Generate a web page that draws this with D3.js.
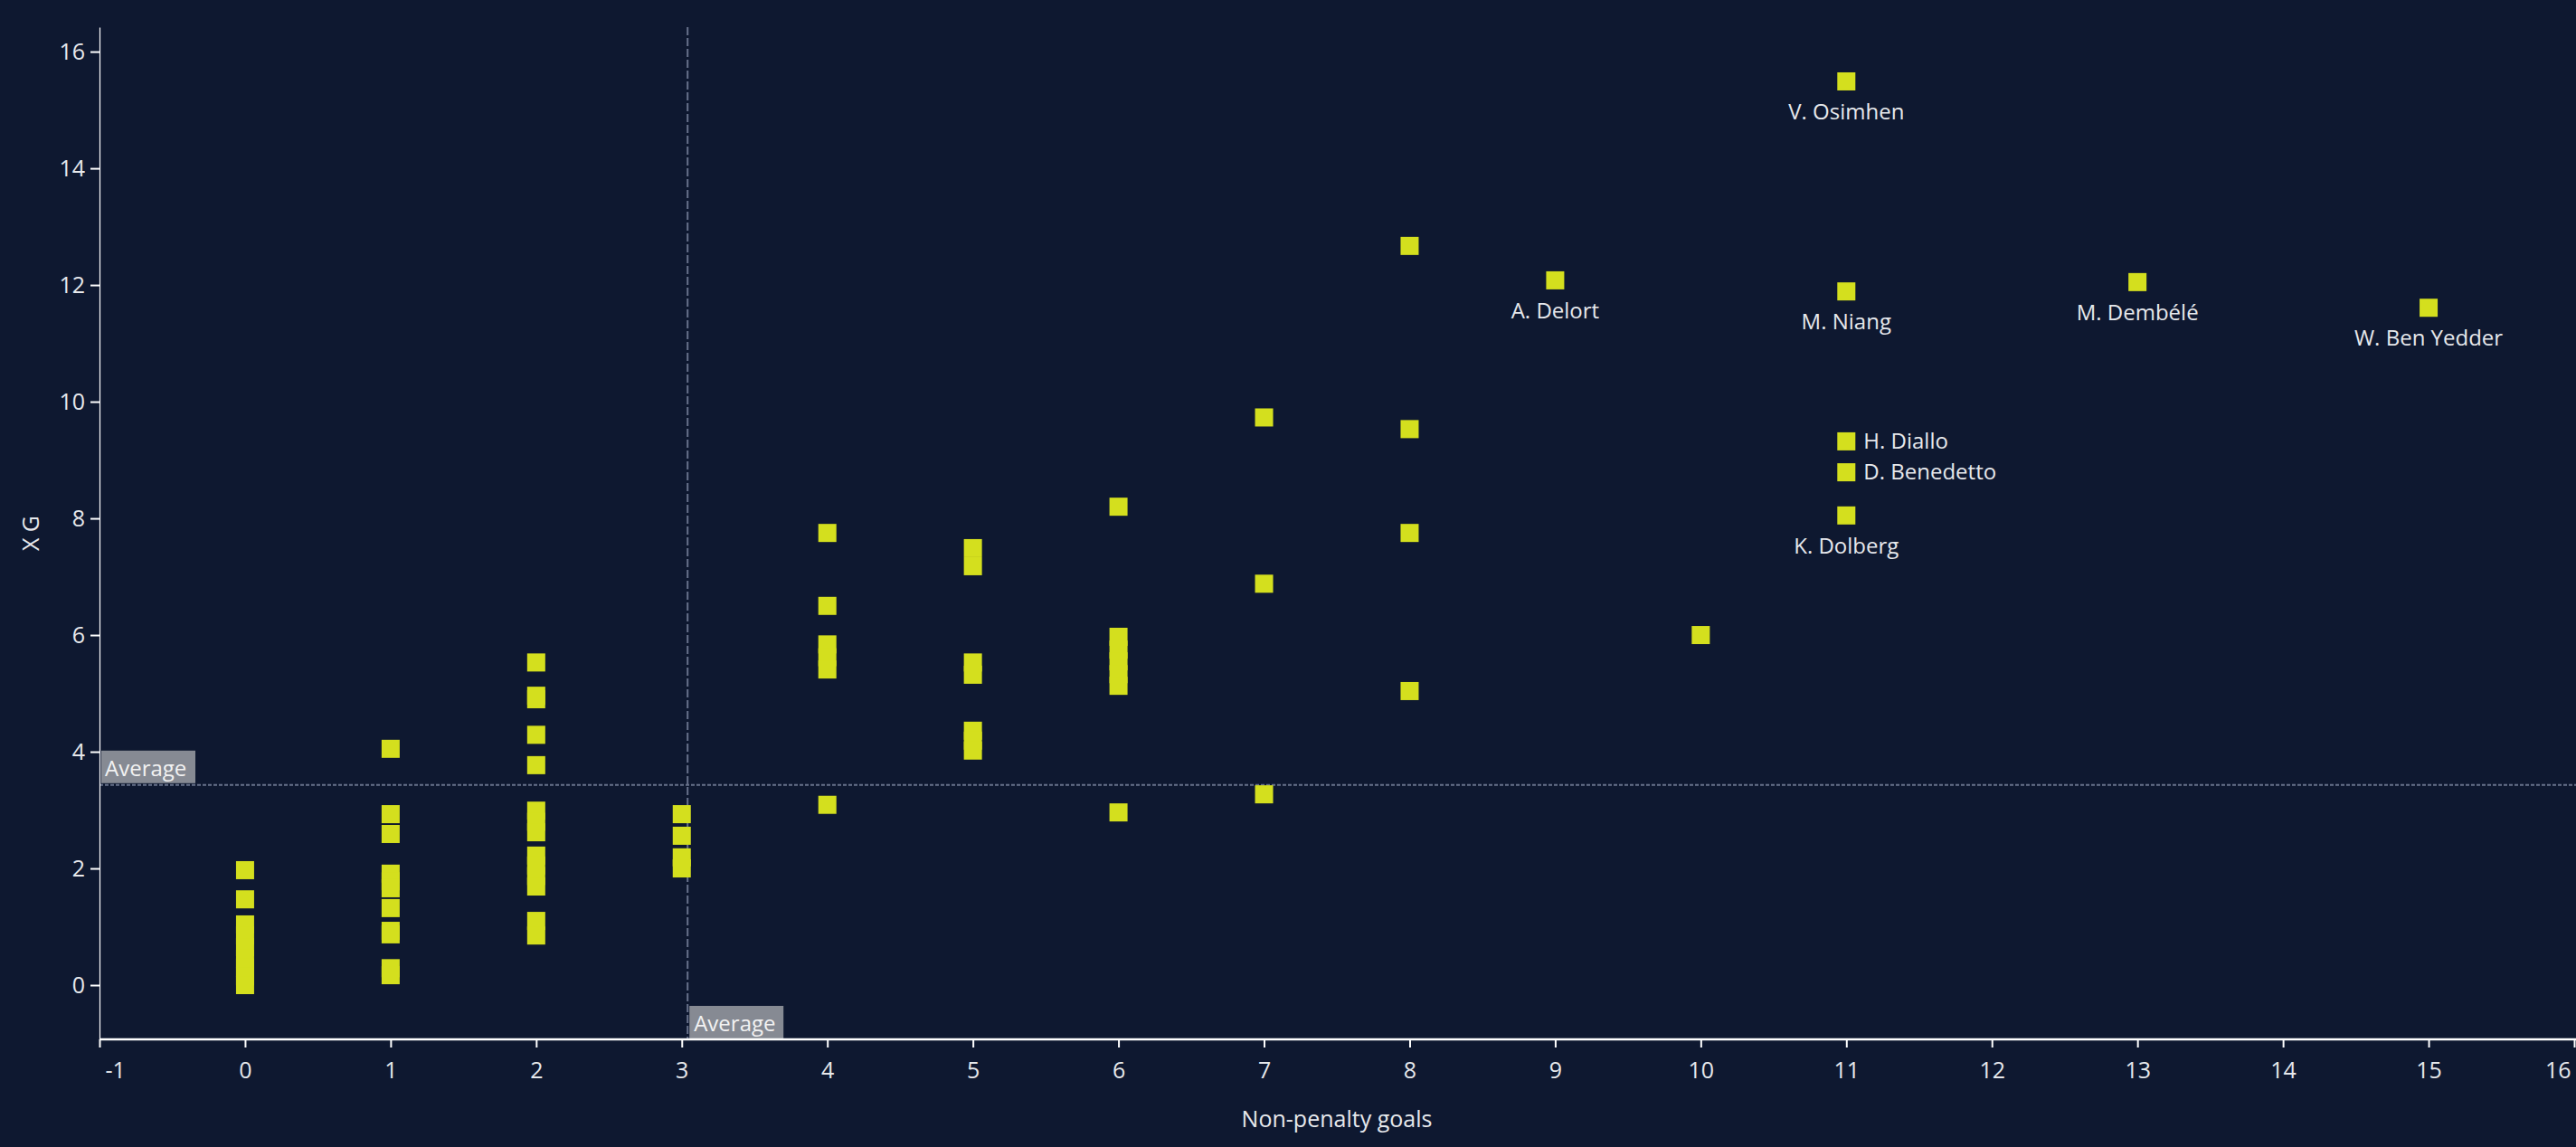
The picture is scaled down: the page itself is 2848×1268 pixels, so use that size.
<!DOCTYPE html>
<html><head><meta charset="utf-8">
<script src="https://cdn.jsdelivr.net/npm/d3@7"></script>
<style>
html,body{margin:0;padding:0;background:#0e1830;}
svg{display:block;}
text{font-family:"Open Sans","Noto Sans",sans-serif;}
</style></head><body>
<svg id="chart" width="2848" height="1268"></svg>
<script>
// ---- data ----
const goals = [
  0,0,0,0,0,0,0,0,0,
  1,1,1,1,1,1,1,1,1,1,1,
  2,2,2,2,2,2,2,2,2,2,2,2,2,2,
  3,3,3,3,
  4,4,4,4,4,4,
  5,5,5,5,5,5,5,
  6,6,6,6,6,6,6,
  7,7,7,
  8,8,8,8,
  9,
  10,
  11,11,11,11,11,
  13,
  15
];
const xg = [
  1.97,1.47,1.04,0.85,0.65,0.45,0.30,0.15,0.00,
  4.05,2.93,2.59,1.91,1.78,1.66,1.32,0.93,0.87,0.29,0.17,
  5.53,4.96,4.90,4.29,3.77,2.99,2.80,2.62,2.22,2.05,1.87,1.69,1.10,0.85,
  2.93,2.56,2.19,2.00,
  7.75,6.50,5.84,5.62,5.41,3.09,
  7.49,7.18,5.53,5.32,4.36,4.19,4.02,
  8.20,5.97,5.75,5.55,5.33,5.13,2.96,
  9.73,6.88,3.27,
  12.67,9.53,7.75,5.04,
  12.08,
  6.00,
  15.49,11.89,9.32,8.79,8.05,
  12.05,
  11.61
];
const names = [
  "","","","","","","","","",
  "","","","","","","","","","","",
  "","","","","","","","","","","","","","",
  "","","","",
  "","","","","","",
  "","","","","","","",
  "","","","","","","",
  "","","",
  "","","","",
  "A. Delort",
  "",
  "V. Osimhen","M. Niang","H. Diallo","D. Benedetto","K. Dolberg",
  "M. Dembélé",
  "W. Ben Yedder"
];
const sideLabels = ["H. Diallo","D. Benedetto"];
const xTicks = [-1,0,1,2,3,4,5,6,7,8,9,10,11,12,13,14,15,16];
const yTicks = [0,2,4,6,8,10,12,14,16];
const avgGoals = 3.04;
const avgXg = 3.43;
const avgLabel = "Average";
const xTitle = "Non-penalty goals";
const yTitle = "X G";

// ---- drawing ----
(function(){
const svg = d3.select("#chart");
const W = 2848, H = 1268;
const pL = 110, pR = 2846, pT = 30, pB = 1149;
const x = d3.scaleLinear().domain([-1,16]).range([pL,pR]);
const y = d3.scaleLinear().domain([-0.93,16.42]).range([pB,pT]);
const txt = "#e6e8ec";
const markColor = "#d4df1e";
const refColor = "#67718a";
const sq = 20;

svg.append("rect").attr("width",W).attr("height",H).attr("fill","#0e1830");

// reference lines
svg.append("line")
  .attr("x1",x(avgGoals)).attr("x2",x(avgGoals))
  .attr("y1",pT).attr("y2",pB)
  .attr("stroke",refColor).attr("stroke-width",2).attr("stroke-dasharray","9,3");
svg.append("line")
  .attr("x1",pL).attr("x2",W)
  .attr("y1",y(avgXg)).attr("y2",y(avgXg))
  .attr("stroke",refColor).attr("stroke-width",2).attr("stroke-dasharray","4,2");

// marks
const pts = goals.map((g,i)=>({g, v:xg[i], n:names[i]}));
svg.append("g").selectAll("rect").data(pts).join("rect")
  .attr("x",d=>x(d.g)-sq/2).attr("y",d=>y(d.v)-sq/2)
  .attr("width",sq).attr("height",sq).attr("fill",markColor);

// average labels
const hl = svg.append("g");
hl.append("rect").attr("x",pL+2).attr("y",y(avgXg)-38).attr("width",104).attr("height",36).attr("fill","#868a93");
hl.append("text").attr("x",pL+6).attr("y",y(avgXg)-10).attr("fill","#f2f2f2")
  .attr("font-size",24).text(avgLabel);
const vl = svg.append("g");
vl.append("rect").attr("x",x(avgGoals)+2).attr("y",pB-37).attr("width",104).attr("height",36).attr("fill","#868a93");
vl.append("text").attr("x",x(avgGoals)+7).attr("y",pB-9).attr("fill","#f2f2f2")
  .attr("font-size",24).text(avgLabel);

// point labels
const lab = pts.filter(d=>d.n);
svg.append("g").selectAll("text").data(lab).join("text")
  .attr("x",d=>sideLabels.includes(d.n)? x(d.g)+19 : x(d.g))
  .attr("y",d=>sideLabels.includes(d.n)? y(d.v)+8 : y(d.v)+42)
  .attr("text-anchor",d=>sideLabels.includes(d.n)?"start":"middle")
  .attr("fill",txt).attr("font-size",24).text(d=>d.n);

// axes
const gx = svg.append("g").attr("transform",`translate(0,${pB})`)
  .call(d3.axisBottom(x).tickValues(xTicks).tickSize(9).tickSizeOuter(0).tickPadding(16).tickFormat(d=>String(d)));
gx.select(".domain").attr("stroke","#ffffff").attr("stroke-width",2.5).attr("d",`M${pL},0H${W}`);
gx.selectAll(".tick line").attr("stroke","#ffffff").attr("stroke-width",2);
gx.selectAll(".tick text").attr("fill",txt).attr("font-size",25).attr("font-family",null);
gx.selectAll(".tick text").filter(d=>d===-1).attr("text-anchor","start").attr("x",6);
gx.selectAll(".tick text").filter(d=>d===16).attr("text-anchor","end").attr("x",-4);

const gy = svg.append("g").attr("transform",`translate(${pL},0)`)
  .call(d3.axisLeft(y).tickValues(yTicks).tickSize(10).tickSizeOuter(0).tickPadding(6));
gy.select(".domain").attr("stroke","#ffffff").attr("stroke-width",1.2);
gy.selectAll(".tick line").attr("stroke","#ffffff").attr("stroke-width",2);
gy.selectAll(".tick text").attr("fill",txt).attr("font-size",25).attr("font-family",null);

// titles
svg.append("text").attr("x",(pL+pR)/2).attr("y",1246).attr("text-anchor","middle")
  .attr("fill",txt).attr("font-size",25).text(xTitle);
svg.append("text").attr("transform",`translate(43,${(pT+pB)/2}) rotate(-90)`)
  .attr("text-anchor","middle").attr("fill",txt).attr("font-size",25).text(yTitle);
})();
</script>
</body></html>
